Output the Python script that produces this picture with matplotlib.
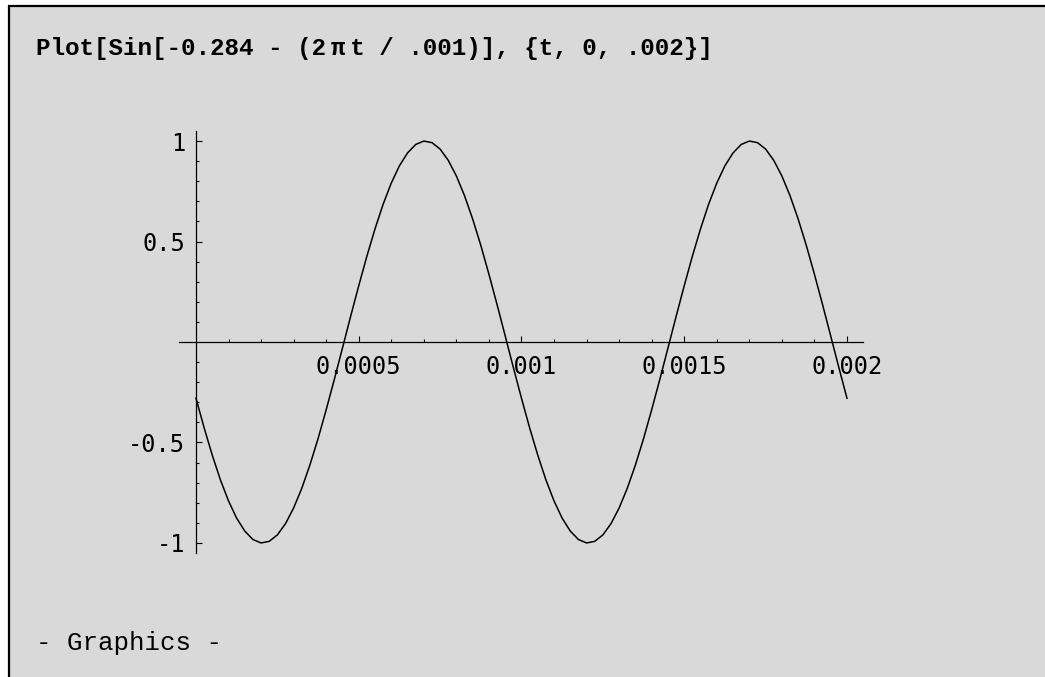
import matplotlib
matplotlib.use("Agg")
import matplotlib.pyplot as plt
from matplotlib.patches import Rectangle

# values: t in seconds (step 0.000025), y = curve height
t_vals = [i * 0.000025 for i in range(81)]
y_period = [-0.280, -0.427, -0.563, -0.686, -0.791, -0.877, -0.941, -0.983, -1.000, -0.992,
            -0.960, -0.904, -0.826, -0.728, -0.612, -0.481, -0.337, -0.186, -0.030, 0.127,
            0.280, 0.427, 0.563, 0.686, 0.791, 0.877, 0.941, 0.983, 1.000, 0.992,
            0.960, 0.904, 0.826, 0.728, 0.612, 0.481, 0.337, 0.186, 0.030, -0.127]
y_vals = y_period + y_period + [-0.280]

x_ticks = [0.0005, 0.001, 0.0015, 0.002]
x_labels = ["0.0005", "0.001", "0.0015", "0.002"]
y_ticks = [-1, -0.5, 0.5, 1]
y_labels = ["-1", "-0.5", "0.5", "1"]

title = "Plot[Sin[-0.284 - (2\u2009\u03c0\u2009t / .001)], {t, 0, .002}]"

W, H = 1045, 677
fig = plt.figure(figsize=(W / 100, H / 100), dpi=100, facecolor="white")

# grey notebook cell with its top and left border
fig.patches.append(Rectangle((8.5 / W, -0.2), 1.5, 1 - 6.5 / H + 0.2,
                             transform=fig.transFigure, facecolor="#d9d9d9",
                             edgecolor="black", linewidth=1.6, zorder=-10))

ax = fig.add_axes([179 / W, 124 / H, (863 - 179) / W, (553 - 131) / H])
ax.patch.set_visible(False)
ax.plot(t_vals, y_vals, color="black", linewidth=1.1)

ax.set_xlim(-0.0000522, 0.0020492)
ax.set_ylim(-1.05, 1.05)

for s in ["top", "right"]:
    ax.spines[s].set_visible(False)
ax.spines["left"].set_position(("data", 0))
ax.spines["bottom"].set_position(("data", 0))
for s in ["left", "bottom"]:
    ax.spines[s].set_linewidth(0.9)
    ax.spines[s].set_color("black")

ax.set_xticks(x_ticks, labels=x_labels)
ax.set_xticks([i * 0.0001 for i in range(1, 21)], minor=True)
ax.set_yticks(y_ticks, labels=y_labels)
ax.set_yticks([i / 10 for i in range(-10, 11) if i != 0], minor=True)

ax.tick_params(which="both", direction="in", color="black", width=0.8)
ax.tick_params(which="major", length=4)
ax.tick_params(which="minor", length=2.3)
ax.tick_params(axis="x", which="major", pad=9)
ax.tick_params(axis="y", which="major", pad=8)
for lab in ax.get_xticklabels() + ax.get_yticklabels():
    lab.set_fontfamily("DejaVu Sans Mono")
    lab.set_fontsize(17)

fig.text(36 / W, 1 - 48 / H, title, family=["Liberation Mono", "DejaVu Sans"],
         fontweight="bold", fontsize=17.5, va="center", ha="left")
fig.text(36 / W, 1 - 643 / H, "- Graphics -", family="Liberation Mono",
         fontsize=18.5, va="center", ha="left")

fig.savefig("out.png", dpi=100, facecolor="white")
